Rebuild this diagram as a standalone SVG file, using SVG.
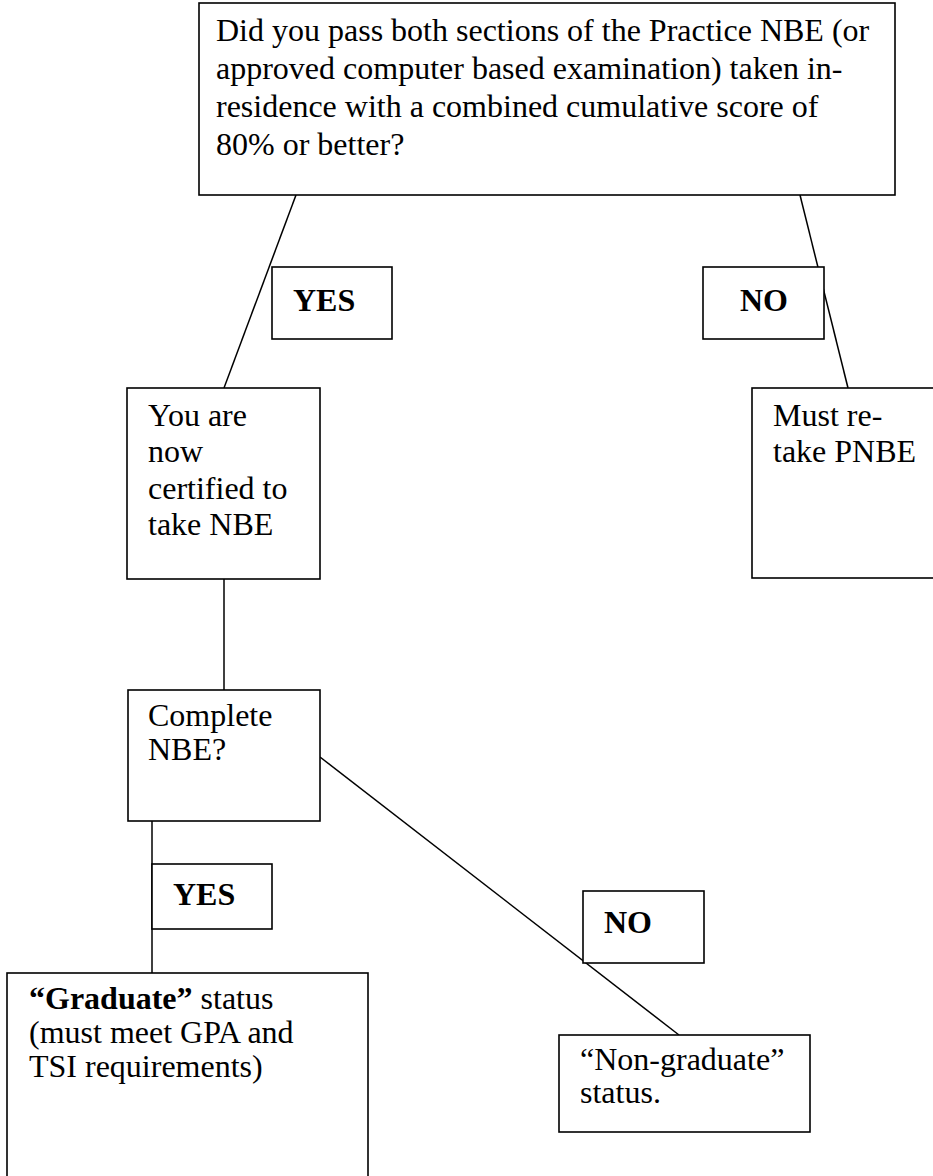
<svg xmlns="http://www.w3.org/2000/svg" width="933" height="1176" viewBox="0 0 933 1176">
<style>
.box{fill:#fff;stroke:#000;stroke-width:1.6}
.t{font-family:"Liberation Serif","Times New Roman",serif;font-size:32px;fill:#000}
.b{font-weight:bold}
.c{stroke:#000;stroke-width:1.5;fill:none}
</style>
<rect width="933" height="1176" fill="#fff"/>
<g id="connectors">
<line class="c" x1="296" y1="195" x2="224" y2="388"/>
<line class="c" x1="800" y1="195" x2="848" y2="388"/>
<line class="c" x1="224" y1="579" x2="224" y2="690"/>
<line class="c" x1="152" y1="821" x2="152" y2="973"/>
<line class="c" x1="320" y1="757" x2="679" y2="1035"/>
</g>
<g id="q1">
<rect class="box" x="199" y="3" width="696" height="192"/>
<text class="t"><tspan x="216" y="41">Did you pass both sections of the Practice NBE (or</tspan><tspan x="216" y="79">approved computer based examination) taken in-</tspan><tspan x="216" y="117">residence with a combined cumulative score of</tspan><tspan x="216" y="155">80% or better?</tspan></text>
</g>
<g id="yes1">
<rect class="box" x="272" y="267" width="120" height="72"/>
<text class="t b" x="293" y="311">YES</text>
</g>
<g id="no1">
<rect class="box" x="703" y="267" width="121" height="72"/>
<text class="t b" x="740" y="311">NO</text>
</g>
<g id="certified">
<rect class="box" x="127" y="388" width="193" height="191"/>
<text class="t"><tspan x="148" y="426">You are</tspan><tspan x="148" y="462">now</tspan><tspan x="148" y="499">certified to</tspan><tspan x="148" y="535">take NBE</tspan></text>
</g>
<g id="retake">
<rect class="box" x="752" y="388" width="200" height="190"/>
<text class="t"><tspan x="773" y="426">Must re-</tspan><tspan x="773" y="462">take PNBE</tspan></text>
</g>
<g id="complete">
<rect class="box" x="128" y="690" width="192" height="131"/>
<text class="t"><tspan x="148" y="726">Complete</tspan><tspan x="148" y="760">NBE?</tspan></text>
</g>
<g id="yes2">
<rect class="box" x="152" y="864" width="120" height="65"/>
<text class="t b" x="173" y="905">YES</text>
</g>
<g id="no2">
<rect class="box" x="583" y="891" width="121" height="72"/>
<text class="t b" x="604" y="933">NO</text>
</g>
<g id="graduate">
<rect class="box" x="7" y="973" width="361" height="220"/>
<text class="t"><tspan x="29" y="1009" font-weight="bold">“Graduate”</tspan><tspan> status</tspan><tspan x="29" y="1043">(must meet GPA and</tspan><tspan x="29" y="1077">TSI requirements)</tspan></text>
</g>
<g id="nongraduate">
<rect class="box" x="559" y="1035" width="251" height="97"/>
<text class="t"><tspan x="580" y="1070">“Non-graduate”</tspan><tspan x="580" y="1103">status.</tspan></text>
</g>
</svg>
